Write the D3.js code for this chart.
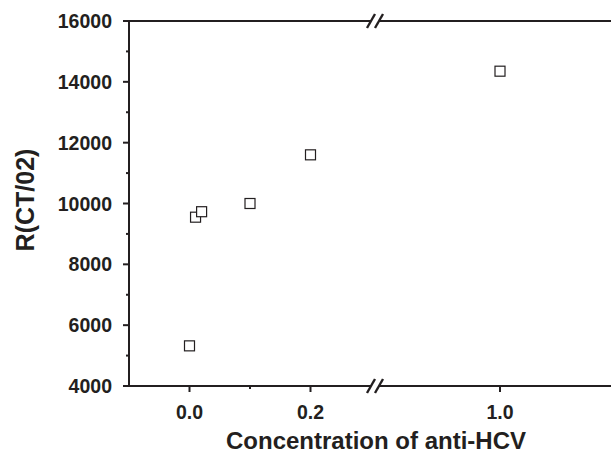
<!DOCTYPE html>
<html>
<head>
<meta charset="utf-8">
<script src="https://cdn.jsdelivr.net/npm/d3@7"></script>
<style>
  body { margin: 0; background: #fff; }
  svg { display: block; font-family: "Liberation Sans", Arial, sans-serif; font-weight: bold; }
</style>
</head>
<body>
<div class="root"></div>
<script>
// data
const concentration = [0.0, 0.01, 0.02, 0.1, 0.2, 1.0];
const ratio = [5320, 9550, 9730, 10000, 11600, 14350];
const yTicks = [4000, 6000, 8000, 10000, 12000, 14000, 16000];
const yMinorTicks = [5000, 7000, 9000, 11000, 13000, 15000];
const xTicksLeft = [0.0, 0.2];
const xMinorLeft = [0.1];
const xTicksRight = [1.0];

const svgWidth = 611;
const svgHeight = 454;
const ink = '#231f20';

const svg = d3.select('.root')
  .append('svg')
  .attr('width', svgWidth)
  .attr('height', svgHeight);

const plotTop = 21, plotBottom = 386;
const plotLeft = 129;
const breakAt = 375;

// broken x axis: two linear segments
const xL = d3.scaleLinear().domain([-0.1, 0.3]).range([plotLeft, 371]);
const xR = d3.scaleLinear().domain([0.8, 1.2]).range([378, 622]);
const x = v => v <= 0.3 ? xL(v) : xR(v);
const y = d3.scaleLinear().domain([4000, 16000]).range([plotBottom, plotTop]);

const g = svg.append('g');

// y axis
g.append('line')
  .attr('x1', plotLeft).attr('x2', plotLeft)
  .attr('y1', plotTop - 1).attr('y2', plotBottom + 1)
  .attr('stroke', ink).attr('stroke-width', 2);

g.selectAll('.ytick')
  .data(yTicks)
  .enter().append('line')
  .attr('x1', plotLeft - 6).attr('x2', plotLeft)
  .attr('y1', d => y(d)).attr('y2', d => y(d))
  .attr('stroke', ink).attr('stroke-width', 2);

g.selectAll('.yminor')
  .data(yMinorTicks)
  .enter().append('line')
  .attr('x1', plotLeft - 3).attr('x2', plotLeft)
  .attr('y1', d => y(d)).attr('y2', d => y(d))
  .attr('stroke', ink).attr('stroke-width', 2);

g.selectAll('.ylabel')
  .data(yTicks)
  .enter().append('text')
  .attr('x', plotLeft - 17)
  .attr('y', d => y(d))
  .attr('dy', '0.36em')
  .attr('text-anchor', 'end')
  .attr('font-size', 19.5)
  .attr('fill', ink)
  .text(d => d);

// top and bottom frame lines, cut at the break
[plotTop, plotBottom].forEach(yy => {
  g.append('line')
    .attr('x1', plotLeft).attr('x2', breakAt - 4)
    .attr('y1', yy).attr('y2', yy)
    .attr('stroke', ink).attr('stroke-width', 2);
  g.append('line')
    .attr('x1', breakAt + 4).attr('x2', svgWidth)
    .attr('y1', yy).attr('y2', yy)
    .attr('stroke', ink).attr('stroke-width', 2);
  [-4, 4].forEach(dx => {
    g.append('line')
      .attr('x1', breakAt + dx - 4).attr('x2', breakAt + dx + 4)
      .attr('y1', yy + 7).attr('y2', yy - 7)
      .attr('stroke', ink).attr('stroke-width', 2.4);
  });
});

// x ticks
const xMajor = xTicksLeft.map(v => xL(v)).concat(xTicksRight.map(v => xR(v)));
const xLabels = xTicksLeft.concat(xTicksRight);

g.selectAll('.xtick')
  .data(xMajor)
  .enter().append('line')
  .attr('x1', d => d).attr('x2', d => d)
  .attr('y1', plotBottom).attr('y2', plotBottom + 6)
  .attr('stroke', ink).attr('stroke-width', 2);

g.selectAll('.xminor')
  .data(xMinorLeft)
  .enter().append('line')
  .attr('x1', d => xL(d)).attr('x2', d => xL(d))
  .attr('y1', plotBottom).attr('y2', plotBottom + 3)
  .attr('stroke', ink).attr('stroke-width', 2);

g.selectAll('.xlabel')
  .data(xLabels)
  .enter().append('text')
  .attr('x', (d, i) => xMajor[i])
  .attr('y', 419)
  .attr('text-anchor', 'middle')
  .attr('font-size', 19.5)
  .attr('fill', ink)
  .text(d => d.toFixed(1));

// axis titles
svg.append('text')
  .attr('x', 376)
  .attr('y', 449)
  .attr('text-anchor', 'middle')
  .attr('font-size', 24)
  .attr('fill', ink)
  .text('Concentration of anti-HCV');

svg.append('text')
  .attr('transform', `translate(34, 200) rotate(-90)`)
  .attr('text-anchor', 'middle')
  .attr('font-size', 25)
  .attr('fill', ink)
  .text('R(CT/02)');

// points
const pts = concentration.map((c, i) => ({ c, r: ratio[i] }));
g.selectAll('.pt')
  .data(pts)
  .enter().append('rect')
  .attr('x', d => x(d.c) - 5)
  .attr('y', d => y(d.r) - 5)
  .attr('width', 10)
  .attr('height', 10)
  .attr('fill', '#fff')
  .attr('stroke', ink)
  .attr('stroke-width', 1.2);
</script>
</body>
</html>
